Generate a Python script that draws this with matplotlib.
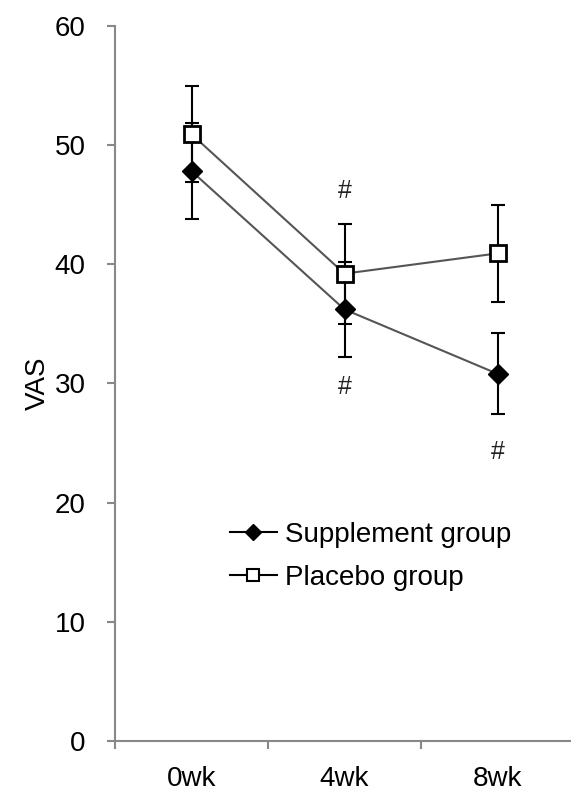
import matplotlib.pyplot as plt

plt.rcParams['font.family'] = ['Liberation Sans', 'DejaVu Sans']

weeks = ['0wk', '4wk', '8wk']
supp_mean = [47.8, 36.2, 30.8]
supp_err = [4.0, 4.0, 3.4]
plac_mean = [50.9, 39.2, 40.9]
plac_err = [4.0, 4.2, 4.1]
# positions of the "#" marks (value units)
hash_x = [1, 1, 2]
hash_y = [46.1, 29.7, 24.2]

fig = plt.figure(figsize=(5.71, 7.93), dpi=100)
ax = fig.add_axes([115 / 571, 0.0656, 459 / 571, 0.902])

x = range(len(weeks))
line_col = '#555555'
ax.errorbar(x, supp_mean, yerr=supp_err, fmt='none', ecolor='black',
            elinewidth=1.5, capsize=5, capthick=1.5, zorder=2)
ax.errorbar(x, plac_mean, yerr=plac_err, fmt='none', ecolor='black',
            elinewidth=1.5, capsize=5, capthick=1.5, zorder=2)
ax.plot(x, supp_mean, color=line_col, lw=1.5, zorder=3)
ax.plot(x, plac_mean, color=line_col, lw=1.5, zorder=3)
ax.plot(x, supp_mean, ls='none', marker='D', ms=10, mfc='black', mec='black', zorder=4)
ax.plot(x, plac_mean, ls='none', marker='s', ms=11, mfc='white', mec='black', mew=2, zorder=4)

for hx, hy in zip(hash_x, hash_y):
    ax.text(hx, hy, '#', ha='center', va='center', fontsize=18, color='#222222')

# legend handles
h1, = ax.plot([], [], color='black', lw=1.5, marker='D', ms=8, mfc='black', mec='black')
h2, = ax.plot([], [], color='black', lw=1.5, marker='s', ms=8, mfc='white', mec='black', mew=1.5)
leg = ax.legend([h1, h2], ['Supplement group', 'Placebo group'], loc='upper left',
                bbox_to_anchor=(0.195, 0.341), frameon=False, fontsize=20,
                handlelength=1.7, handletextpad=0.3, labelspacing=0.6)

ax.set_xlim(-0.5, 2.5)
ax.set_ylim(0, 60)
ax.set_yticks(range(0, 61, 10))
ax.set_xticks([-0.5, 0.5, 1.5, 2.5])
ax.set_xticklabels([])
ax.set_xticks(list(x), minor=True)
ax.set_xticklabels(weeks, minor=True)
ax.tick_params(axis='x', which='minor', length=0, pad=18, labelsize=20)
ax.tick_params(axis='x', which='major', length=6, color='#888888', width=1.5)
ax.tick_params(axis='y', length=6, color='#888888', width=1.5, labelsize=20, pad=15)
ax.set_ylabel('VAS', fontsize=20, labelpad=3)

for s in ['top', 'right']:
    ax.spines[s].set_visible(False)
for s in ['left', 'bottom']:
    ax.spines[s].set_color('#888888')
    ax.spines[s].set_linewidth(1.5)

fig.savefig('out.png', dpi=100)
